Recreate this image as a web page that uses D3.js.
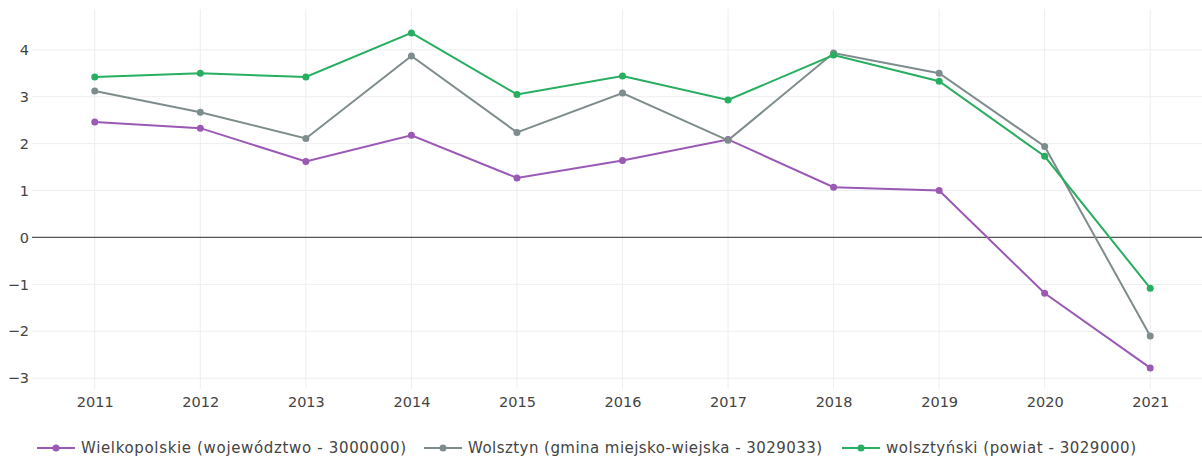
<!DOCTYPE html>
<html><head><meta charset="utf-8">
<script src="https://cdn.jsdelivr.net/npm/d3@7"></script>
<style>body{margin:0;background:#fff}svg{display:block}text{font-family:"DejaVu Sans",Verdana,sans-serif}</style>
</head><body><svg id="c" width="1202" height="457"></svg>
<script>
const years = [2011,2012,2013,2014,2015,2016,2017,2018,2019,2020,2021];
const wielkopolskie = [2.46,2.33,1.62,2.18,1.27,1.64,2.09,1.07,1.00,-1.19,-2.78];
const wolsztyn = [3.12,2.67,2.11,3.87,2.24,3.08,2.07,3.93,3.50,1.94,-2.10];
const wolsztynski = [3.42,3.50,3.42,4.36,3.05,3.44,2.93,3.89,3.33,1.73,-1.08];
const seriesNames = ["Wielkopolskie (województwo - 3000000)","Wolsztyn (gmina miejsko-wiejska - 3029033)","wolsztyński (powiat - 3029000)"];
const seriesColors = ["#9b59b6","#7f8c8d","#27ae60"];
const yTicks = [-3,-2,-1,0,1,2,3,4];

(function(){
const svg = d3.select("#c");
const pL = 42, pR = 1203, pT = 9, pB = 389;
const x = d3.scaleLinear().domain([2010.5,2021.5]).range([pL,pR]);
const y = d3.scaleLinear().domain([-3.23,4.87]).range([pB,pT]);

const g = svg.append("g");
g.selectAll("line.vg").data(years).join("line")
  .attr("x1",d=>x(d)).attr("x2",d=>x(d)).attr("y1",pT).attr("y2",pB)
  .attr("stroke","#eeeeee").attr("stroke-width",1);
g.selectAll("line.hg").data(yTicks.filter(d=>d!==0)).join("line")
  .attr("x1",pL-10).attr("x2",pR).attr("y1",d=>y(d)).attr("y2",d=>y(d))
  .attr("stroke","#eeeeee").attr("stroke-width",1);
g.append("line").attr("x1",pL-10).attr("x2",pR).attr("y1",y(0)).attr("y2",y(0))
  .attr("stroke","#555").attr("stroke-width",1.2);

const yAxis = d3.axisLeft(y).tickValues(yTicks).tickSize(0).tickPadding(3)
  .tickFormat(d=> d<0 ? "\u2212"+Math.abs(d) : String(d));
const ya = svg.append("g").attr("transform",`translate(${pL-10},0)`).call(yAxis);
ya.select(".domain").remove();
ya.selectAll("text").attr("fill","#444").style("font-size","14.5px").style("font-family",'"DejaVu Sans",Verdana,sans-serif');

const xAxis = d3.axisBottom(x).tickValues(years).tickSize(0).tickPadding(8).tickFormat(d3.format("d"));
const xa = svg.append("g").attr("transform",`translate(0,${pB})`).call(xAxis);
xa.select(".domain").remove();
xa.selectAll("text").attr("fill","#444").style("font-size","14.5px").style("font-family",'"DejaVu Sans",Verdana,sans-serif');

const allSeries = [wielkopolskie, wolsztyn, wolsztynski];
const line = d3.line().x((d,i)=>x(years[i])).y(d=>y(d));
allSeries.forEach((s,k)=>{
  g.append("path").datum(s).attr("d",line).attr("fill","none")
    .attr("stroke",seriesColors[k]).attr("stroke-width",2);
  g.selectAll(null).data(s).join("circle")
    .attr("cx",(d,i)=>x(years[i])).attr("cy",d=>y(d)).attr("r",3.5)
    .attr("fill",seriesColors[k]);
});

const legX = [37,424,842];
const legW = [325,354,250];
const legY = 448;
const lg = svg.append("g");
seriesNames.forEach((n,k)=>{
  const gg = lg.append("g").attr("transform",`translate(${legX[k]},${legY})`);
  gg.append("line").attr("x1",0).attr("x2",38).attr("y1",0).attr("y2",0)
    .attr("stroke",seriesColors[k]).attr("stroke-width",2);
  gg.append("circle").attr("cx",19).attr("cy",0).attr("r",3.5).attr("fill",seriesColors[k]);
  gg.append("text").attr("x",44).attr("y",0).attr("dy","0.35em")
    .attr("textLength",legW[k]).attr("lengthAdjust","spacing")
    .attr("fill","#444").style("font-size","15px").text(n);
});
})();
</script></body></html>
